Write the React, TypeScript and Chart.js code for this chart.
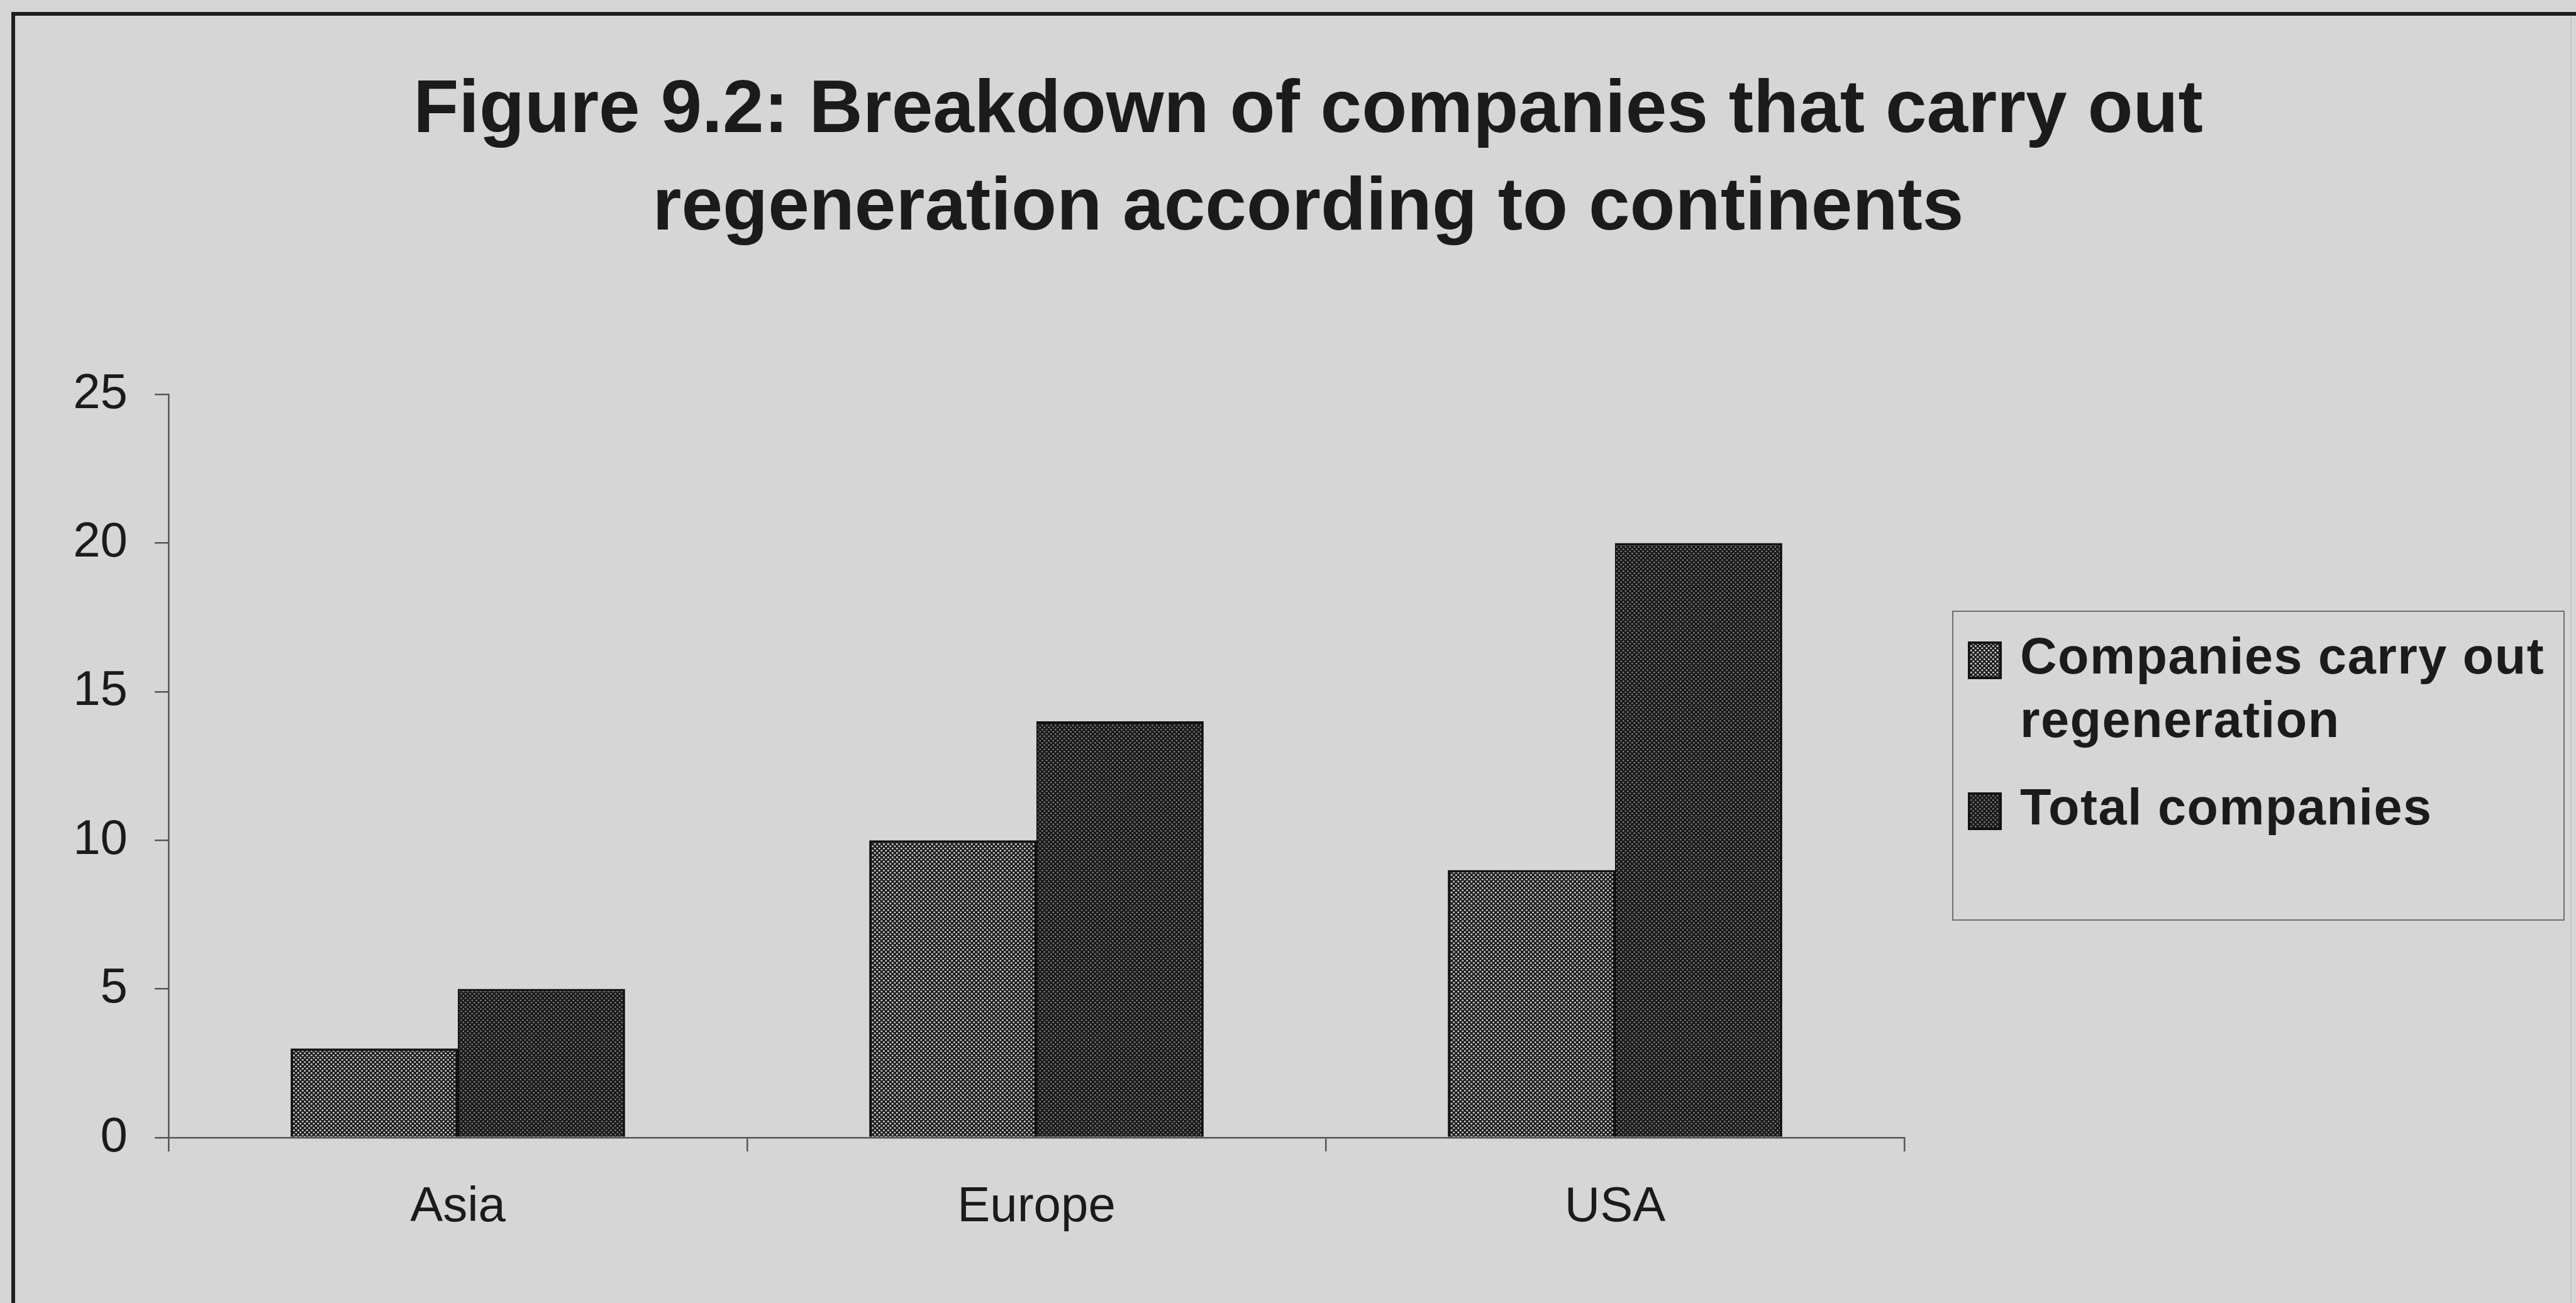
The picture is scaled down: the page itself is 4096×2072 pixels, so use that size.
import React, { useEffect, useRef } from "react";
import { Chart, registerables } from "chart.js";

Chart.register(...registerables);

// ---- data ----
const CATEGORIES = ["Asia", "Europe", "USA"];
const SERIES_LABELS = ["Companies carry out regeneration", "Total companies"];
const REGENERATING = [3, 10, 9];
const TOTAL = [5, 14, 20];
const Y_TICKS = [0, 5, 10, 15, 20, 25];
const TITLE_LINES = [
  "Figure 9.2: Breakdown of companies that carry out",
  "regeneration according to continents",
];

// ---- styles ----
const FONT = '"Liberation Sans", Arial, Helvetica, sans-serif';
const INK = "#1b1b1b";
const AXIS = "#555555";
const BG = "#d6d6d6";

function makePattern(
  ctx: CanvasRenderingContext2D,
  bg: string,
  dot: string,
  r: number,
  size: number
) {
  const c = document.createElement("canvas");
  c.width = size;
  c.height = size;
  const g = c.getContext("2d")!;
  g.fillStyle = bg;
  g.fillRect(0, 0, size, size);
  g.fillStyle = dot;
  const pts = [
    [size / 4, size / 4],
    [(size * 3) / 4, (size * 3) / 4],
  ];
  for (const [x, y] of pts) {
    g.beginPath();
    g.arc(x, y, r, 0, Math.PI * 2);
    g.fill();
  }
  return ctx.createPattern(c, "repeat")!;
}

function wrapText(ctx: CanvasRenderingContext2D, text: string, maxW: number) {
  const words = text.split(" ");
  const lines: string[] = [];
  let cur = "";
  for (const w of words) {
    const t = cur ? cur + " " + w : w;
    if (cur && ctx.measureText(t).width > maxW) {
      lines.push(cur);
      cur = w;
    } else cur = t;
  }
  if (cur) lines.push(cur);
  return lines;
}

const framePlugin = {
  id: "frame",
  afterDraw(chart: any) {
    const ctx = chart.ctx as CanvasRenderingContext2D;
    ctx.save();
    ctx.strokeStyle = "#1e1e1e";
    ctx.lineWidth = 6;
    ctx.beginPath();
    ctx.moveTo(18, 22);
    ctx.lineTo(chart.width, 22);
    ctx.moveTo(21, 19);
    ctx.lineTo(21, chart.height);
    ctx.stroke();
    ctx.strokeStyle = "#c4c4c4";
    ctx.lineWidth = 2;
    ctx.beginPath();
    ctx.moveTo(4088, 26);
    ctx.lineTo(4088, chart.height);
    ctx.stroke();
    ctx.restore();
  },
};

const legendPlugin = {
  id: "boxLegend",
  afterDraw(chart: any) {
    const ctx = chart.ctx as CanvasRenderingContext2D;
    const boxL = 3105,
      boxT = 972,
      boxW = 972,
      boxH = 491;
    const swX = 3129,
      swW = 54,
      swH = 60;
    const textX = 3212;
    const lineH = 101;
    const itemGap = 38;
    ctx.save();
    ctx.strokeStyle = "#707070";
    ctx.lineWidth = 2;
    ctx.strokeRect(boxL, boxT, boxW, boxH);
    ctx.font = `bold 81px ${FONT}`;
    (ctx as any).letterSpacing = "1.5px";
    ctx.textBaseline = "alphabetic";
    ctx.textAlign = "left";
    let baseline = 1071;
    chart.data.datasets.forEach((ds: any) => {
      const lines = wrapText(ctx, ds.label, boxL + boxW - textX - 10);
      const swT = baseline - 51;
      ctx.fillStyle = "#141414";
      ctx.fillRect(swX, swT, swW, swH);
      ctx.fillStyle = ds.backgroundColor;
      ctx.fillRect(swX + 4, swT + 4, swW - 8, swH - 8);
      ctx.fillStyle = INK;
      lines.forEach((ln, i) => ctx.fillText(ln, textX, baseline + i * lineH));
      baseline += lines.length * lineH + itemGap;
    });
    ctx.restore();
  },
};

export default function App() {
  const ref = useRef<HTMLCanvasElement | null>(null);

  useEffect(() => {
    const canvas = ref.current!;
    const ctx = canvas.getContext("2d")!;
    const pat1 = makePattern(ctx, "#1c1c1c", "#cfcfcf", 1.5, 7);
    const pat2 = makePattern(ctx, "#1a1a1a", "#8c8c8c", 1.2, 7);

    const chart = new Chart(canvas, {
      type: "bar",
      data: {
        labels: CATEGORIES,
        datasets: [
          {
            label: SERIES_LABELS[0],
            data: REGENERATING,
            backgroundColor: pat1 as any,
            borderColor: "#121212",
            borderWidth: { top: 4, left: 4, right: 3, bottom: 0 } as any,
            barPercentage: 1,
            categoryPercentage: 0.578,
          },
          {
            label: SERIES_LABELS[1],
            data: TOTAL,
            backgroundColor: pat2 as any,
            borderColor: "#121212",
            borderWidth: { top: 4, left: 2, right: 4, bottom: 0 } as any,
            barPercentage: 1,
            categoryPercentage: 0.578,
          },
        ],
      },
      options: {
        animation: false,
        responsive: true,
        maintainAspectRatio: false,
        devicePixelRatio: 1,
        layout: { padding: { left: 64, right: 0, top: 0, bottom: 0 } },
        plugins: {
          legend: { display: false },
          tooltip: { enabled: false },
          title: {
            display: true,
            text: TITLE_LINES,
            color: INK,
            font: { family: FONT, size: 118, weight: "bold", lineHeight: 1.3136 },
            padding: { top: 100, bottom: 217 },
          },
        },
        scales: {
          x: {
            type: "category",
            offset: true,
            grid: {
              display: true,
              drawOnChartArea: false,
              drawTicks: true,
              tickLength: 22,
              color: AXIS,
              lineWidth: 2.5,
              offset: true,
            },
            border: { display: true, color: AXIS, width: 2.5 },
            ticks: {
              color: INK,
              font: { family: FONT, size: 78 },
              padding: 43,
              maxRotation: 0,
              autoSkip: false,
            },
            afterFit: (s: any) => {
              s.height = 263;
            },
          },
          y: {
            type: "linear",
            position: "left",
            min: 0,
            max: 25,
            afterBuildTicks: (s: any) => {
              s.ticks = Y_TICKS.map((v) => ({ value: v }));
            },
            grid: {
              display: true,
              drawOnChartArea: false,
              drawTicks: true,
              tickLength: 22,
              color: AXIS,
              lineWidth: 2.5,
            },
            border: { display: true, color: AXIS, width: 2.5 },
            ticks: {
              color: INK,
              font: { family: FONT, size: 78 },
              padding: 43,
            },
            afterFit: (s: any) => {
              s.width = 204;
            },
          },
          spacer: {
            type: "linear",
            position: "right",
            display: true,
            grid: { display: false },
            border: { display: false },
            ticks: { display: false },
            afterFit: (s: any) => {
              s.width = 1068;
            },
          },
        },
      } as any,
      plugins: [framePlugin, legendPlugin],
    });
    return () => chart.destroy();
  }, []);

  return (
    <div
      style={{
        position: "fixed",
        left: 0,
        top: 0,
        width: "100vw",
        height: "100vh",
        background: BG,
        overflow: "hidden",
      }}
    >
      <canvas ref={ref} />
    </div>
  );
}
